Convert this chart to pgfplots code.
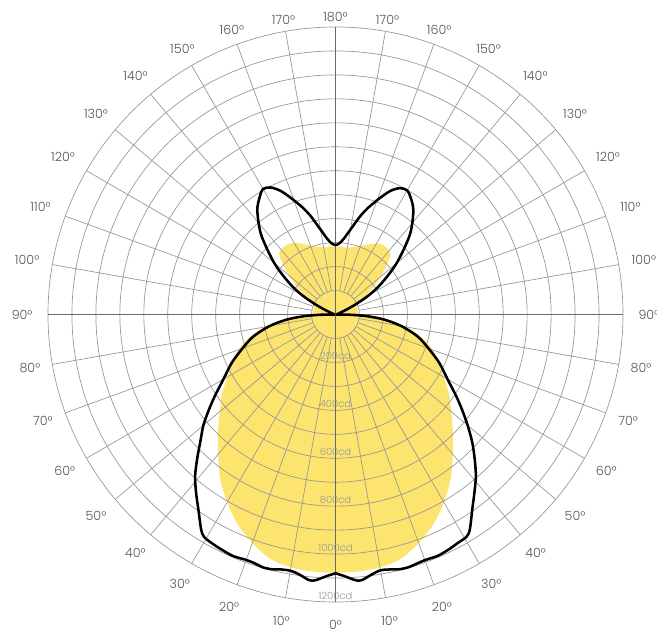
\documentclass[border=0pt]{standalone}
\usepackage{pgfplots}
\pgfplotsset{compat=1.18}
\usepackage{pgfplotstable}
\usepackage{fontspec}
\setmainfont{Poppins}[UprightFont=* Light]
\definecolor{lampyellow}{RGB}{252,228,110}
\definecolor{gridgray}{RGB}{150,150,150}
\definecolor{axisgray}{RGB}{105,105,105}
\definecolor{labgray}{RGB}{85,85,85}
\definecolor{cdgray}{RGB}{150,150,150}

% black curve: t = polar angle (deg, ccw from +x), r = intensity (cd)
\pgfplotstableread{
t r
-90 1080
-88 1093
-86 1110
-85 1115
-84 1112
-82 1095
-80 1084
-78 1088
-76 1096
-74 1098
-72 1094
-70 1091
-67 1094
-64 1088
-62 1082
-59.5 1077
-58 1058
-55 995
-52 942
-49 893
-46 836
-43 780
-40 720
-37 662
-34 607
-30 540
-25 478
-20 413
-15 355
-10 280
-6 205
-3 130
-1 60
0 5
5 5
15 10
20 20
24 50
27 100
30 160
34 230
40 333
47 455
53 540
57 578
60 598
63 592
66 565
69 522
73 466
76 421
80 360
84 316
87 297
90 290
93 297
96 316
100 360
104 421
107 466
111 522
114 565
117 595
120 605
123 582
127 542
133 455
140 333
146 230
150 160
153 100
156 50
160 20
165 10
175 5
180 5
181 60
183 130
186 205
190 280
195 355
200 413
205 478
210 540
214 607
217 662
220 720
223 770
226 830
229 893
232 945
235 997
238 1058
239.5 1079
242 1086
244 1090
247 1095
250 1090
252 1092
254 1098
256 1096
258 1088
260 1086
262 1095
264 1112
265 1115
266 1110
268 1093
270 1080
}\blackcurve

% yellow area
\pgfplotstableread{
t r
-90 1078
-85 1077
-80 1072
-75 1055
-70 1015
-65 966
-60 905
-55 838
-50 762
-45 693
-40 631
-35 578
-30 521
-25 476
-20 431
-15 375
-10 300
-6 205
-3 125
-1 100
2 95
10 93
18 93
24 97
28 118
33 160
38 220
43 285
47 335
50 348
55 352
60 343
65 322
70 305
75 292
80 284
85 283
90 284
95 284
100 285
105 293
110 306
115 325
120 346
125 355
130 352
133 345
137 295
142 228
147 165
152 120
156 97
162 93
170 93
178 95
181 100
183 125
186 205
190 300
195 375
200 431
205 476
210 521
215 578
220 631
225 693
230 762
235 838
240 905
245 966
250 1015
255 1055
260 1072
265 1077
270 1078
}\yellowcurve

% #1 = polar angle, #2 = radius of label centre (cd units), #3 = text
\newcommand{\lab}[3]{\node[anchor=center, inner sep=0pt, font=\fontsize{9.5}{11}\selectfont, text=labgray] at (axis cs:{#2*cos(#1)},{#2*sin(#1)}) {#3°};}
\newcommand{\cdlab}[2]{\node[anchor=base, inner sep=0pt, font=\fontsize{7.5}{9}\selectfont, text=cdgray] at (axis cs:0,#1) {#2};}

\begin{document}
\begin{tikzpicture}
\begin{axis}[
  x=0.1796875pt, y=0.1796875pt,
  xmin=-1200, xmax=1200, ymin=-1200, ymax=1200,
  hide axis, clip=false, scale only axis]
\addplot[fill=lampyellow, draw=none, smooth, tension=0.5]
  table[x expr={\thisrow{r}*cos(\thisrow{t})}, y expr={\thisrow{r}*sin(\thisrow{t})}] {\yellowcurve} -- cycle;
\pgfplotsinvokeforeach{100,200,...,1200}{
  \draw[gridgray, line width=0.5pt] (axis cs:0,0) circle[radius=#1];
}
\pgfplotsinvokeforeach{10,20,...,80,100,110,...,170,190,200,...,260,280,290,...,350}{
  \draw[gridgray, line width=0.5pt] (axis cs:{100*cos(#1)},{100*sin(#1)}) -- (axis cs:{1200*cos(#1)},{1200*sin(#1)});
}
\draw[axisgray, line width=0.7pt] (axis cs:-1200,0) -- (axis cs:1200,0);
\draw[axisgray, line width=0.7pt] (axis cs:0,-1200) -- (axis cs:0,1200);
\cdlab{-188}{200cd}
\cdlab{-388}{400cd}
\cdlab{-588}{600cd}
\cdlab{-788}{800cd}
\cdlab{-988}{1000cd}
\cdlab{-1188}{1200cd}
\addplot[black, line width=1.9pt, smooth, tension=0.5]
  table[x expr={\thisrow{r}*cos(\thisrow{t})}, y expr={\thisrow{r}*sin(\thisrow{t})}] {\blackcurve};
% right side labels
\lab{-90}{1296}{0}
\lab{-80}{1298}{10}
\lab{-70}{1298}{20}
\lab{-60}{1300}{30}
\lab{-50}{1300}{40}
\lab{-40}{1305}{50}
\lab{-30}{1305}{60}
\lab{-20}{1300}{70}
\lab{-10}{1295}{80}
\lab{0}{1308}{90}
\lab{10}{1307}{100}
\lab{20}{1310}{110}
\lab{30}{1313}{120}
\lab{40}{1305}{130}
\lab{50}{1298}{140}
\lab{60}{1278}{150}
\lab{70}{1265}{160}
\lab{80}{1250}{170}
\lab{90}{1240}{180}
% left side labels
\lab{260}{1298}{10}
\lab{250}{1298}{20}
\lab{240}{1300}{30}
\lab{230}{1300}{40}
\lab{220}{1305}{50}
\lab{210}{1305}{60}
\lab{200}{1300}{70}
\lab{190}{1295}{80}
\lab{180}{1308}{90}
\lab{170}{1307}{100}
\lab{160}{1310}{110}
\lab{150}{1313}{120}
\lab{140}{1305}{130}
\lab{130}{1298}{140}
\lab{120}{1278}{150}
\lab{110}{1265}{160}
\lab{100}{1250}{170}
\coordinate (BL) at (axis cs:-1400.3,-1325.2);
\coordinate (TR) at (axis cs:1341.9,1312.7);
\end{axis}
\pgfresetboundingbox
\path[use as bounding box] (BL) rectangle (TR);
\end{tikzpicture}
\end{document}
